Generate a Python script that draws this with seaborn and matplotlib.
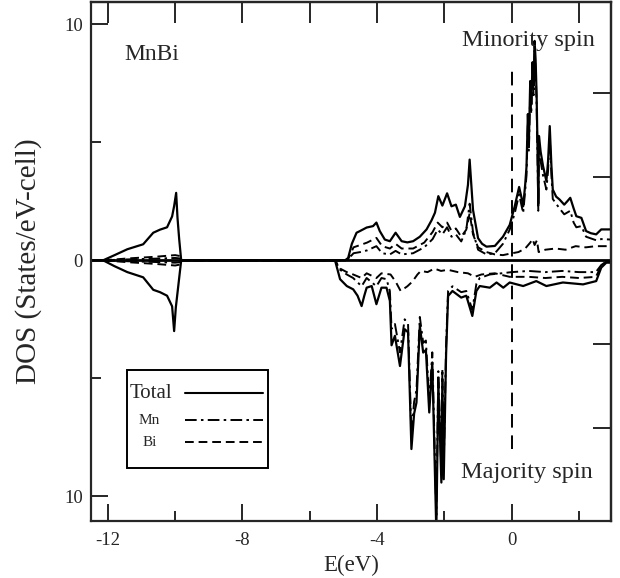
import matplotlib
matplotlib.use("Agg")
import matplotlib.pyplot as plt
import seaborn as sns
from matplotlib.lines import Line2D
from matplotlib.patches import Rectangle

# Minority spin (plotted upward)
e_up_tot = [-12.5, -12.14, -11.8, -11.42, -10.95, -10.65, -10.45, -10.24, -10.09, -10.03, -9.97, -9.93, -9.88, -9.82,
            -4.95, -4.86, -4.75, -4.61, -4.51, -4.31, -4.12, -4.02, -3.92, -3.77, -3.62, -3.45, -3.27, -3.1, -2.93,
            -2.73, -2.53, -2.38, -2.28, -2.18, -2.06, -1.92, -1.79, -1.66, -1.54, -1.39, -1.3, -1.25, -1.2, -1.15,
            -1.0, -0.88, -0.75, -0.5, -0.26, -0.06, 0.09, 0.22, 0.3, 0.34, 0.4, 0.44, 0.48, 0.51, 0.55, 0.58, 0.62,
            0.65, 0.68, 0.71, 0.74, 0.77, 0.79, 0.81, 0.86, 0.93, 1.03, 1.08, 1.13, 1.18, 1.22, 1.32, 1.42, 1.56,
            1.65, 1.74, 1.84, 1.92, 2.07, 2.21, 2.35, 2.51, 2.66, 2.95]
up_tot = [0, 0, 0.22, 0.47, 0.68, 1.17, 1.3, 1.4, 1.86, 2.3, 2.86, 1.8, 0.9, 0,
          0, 0.1, 0.7, 1.17, 1.24, 1.39, 1.45, 1.6, 1.24, 0.88, 0.81, 1.17, 0.81, 0.76, 0.81,
          1.0, 1.31, 1.7, 2.02, 2.72, 2.32, 2.84, 2.29, 2.36, 1.84, 2.29, 3.2, 4.27, 3.2, 2.14,
          0.94, 0.7, 0.58, 0.61, 1.0, 1.5, 2.29, 3.11, 2.6, 2.29, 3.2, 3.98, 6.2, 5.0, 7.6, 6.6, 8.4,
          7.4, 9.3, 8.5, 7.0, 4.5, 2.4, 5.27, 4.6, 4.0, 3.36, 4.2, 5.69, 4.0, 3.0, 2.7, 2.58, 2.36,
          2.5, 2.65, 2.2, 1.87, 1.8, 1.24, 1.15, 1.1, 1.31, 1.31]

e_up_mn = [-12.14, -11.4, -10.6, -10.0, -9.85, -9.82,
           -4.95, -4.86, -4.7, -4.5, -4.3, -4.02, -3.85, -3.62, -3.45, -3.27, -2.93, -2.6, -2.35, -2.2, -2.06,
           -1.92, -1.79, -1.66, -1.5, -1.35, -1.25, -1.15, -1.0, -0.75, -0.5, -0.26, -0.06, 0.09, 0.22, 0.34,
           0.44, 0.48, 0.51, 0.55, 0.58, 0.62, 0.65, 0.68, 0.71, 0.74, 0.77, 0.79, 0.81, 0.86, 0.93, 1.03,
           1.08, 1.13, 1.18, 1.22, 1.42, 1.56, 1.74, 1.84, 1.92, 2.07, 2.21, 2.51, 2.66, 2.95]
up_mn = [0, 0.04, 0.07, 0.1, 0.08, 0,
         0, 0.05, 0.3, 0.35, 0.42, 0.6, 0.3, 0.25, 0.4, 0.25, 0.3, 0.55, 0.9, 1.3, 1.1,
         1.4, 1.0, 1.1, 0.8, 1.3, 2.4, 1.2, 0.45, 0.25, 0.3, 0.7, 1.3, 2.0, 2.8, 2.0,
         3.6, 5.8, 4.6, 7.2, 6.2, 8.0, 7.0, 8.9, 8.1, 6.6, 4.1, 2.1, 4.9, 4.2, 3.6, 3.0,
         3.8, 5.2, 3.6, 2.6, 2.2, 1.95, 2.1, 1.6, 1.4, 1.45, 1.0, 0.85, 0.9, 0.88]

e_up_bi = [-12.14, -11.4, -10.6, -10.0, -9.85, -9.82,
           -4.95, -4.86, -4.7, -4.5, -4.3, -4.02, -3.85, -3.62, -3.45, -3.27, -2.93, -2.6, -2.35, -2.2, -2.06,
           -1.92, -1.79, -1.66, -1.5, -1.35, -1.25, -1.15, -1.0, -0.75, -0.5, -0.26, -0.06, 0.2, 0.4, 0.55,
           0.62, 0.68, 0.75, 0.8, 1.0, 1.3, 1.6, 1.9, 2.2, 2.5, 2.95]
up_bi = [0, 0.08, 0.15, 0.22, 0.18, 0,
         0, 0.05, 0.55, 0.65, 0.75, 0.95, 0.6, 0.5, 0.7, 0.5, 0.5, 0.75, 1.2, 1.6, 1.4,
         1.6, 1.25, 1.35, 1.0, 1.3, 2.0, 1.1, 0.55, 0.35, 0.25, 0.22, 0.28, 0.35, 0.5, 0.75,
         0.9, 0.65, 0.85, 0.35, 0.45, 0.5, 0.45, 0.6, 0.55, 0.6, 0.6]

# Majority spin (plotted downward)
e_dn_tot = [-12.5, -12.14, -11.8, -11.42, -10.95, -10.65, -10.45, -10.24, -10.09, -10.03, -9.98, -9.9, -9.82,
            -5.25, -5.1, -4.9, -4.71, -4.58, -4.46, -4.38, -4.31, -4.16, -4.02, -3.87, -3.72, -3.62, -3.57,
            -3.47, -3.32, -3.18, -3.08, -2.98, -2.9, -2.83, -2.73, -2.63, -2.55, -2.45, -2.36, -2.24, -2.18,
            -2.09, -2.06, -2.02, -1.95, -1.89, -1.76, -1.5, -1.35, -1.17, -1.05, -0.95, -0.65, -0.45, -0.25,
            -0.06, 0.34, 0.73, 1.03, 1.52, 2.12, 2.51, 2.66, 2.81, 2.95]
dn_tot = [0, 0, -0.25, -0.5, -0.72, -1.25, -1.35, -1.5, -1.95, -3.0, -2.0, -1.0, 0,
          0, -0.8, -1.09, -1.23, -1.5, -1.94, -1.5, -1.16, -1.09, -1.86, -1.16, -1.16, -1.72, -3.6,
          -3.2, -4.48, -2.92, -3.05, -8.0, -6.5, -6.03, -2.78, -3.91, -3.8, -6.45, -4.33, -11.5, -5.18,
          -9.42, -5.04, -9.28, -4.0, -1.51, -1.3, -1.58, -1.5, -2.36, -1.3, -1.09, -1.16, -0.94, -1.16,
          -0.94, -1.09, -0.88, -1.09, -0.94, -1.02, -0.88, -0.31, -0.1, -0.1]

e_dn_mn = [-12.14, -11.4, -10.6, -10.0, -9.85, -9.82,
           -5.25, -5.1, -4.9, -4.71, -4.46, -4.31, -4.02, -3.87, -3.72, -3.62, -3.57, -3.47, -3.32, -3.18,
           -3.08, -2.98, -2.9, -2.83, -2.73, -2.63, -2.55, -2.45, -2.36, -2.24, -2.18, -2.09, -2.06, -2.02,
           -1.95, -1.89, -1.76, -1.5, -1.35, -1.17, -1.05, -0.95, -0.65, -0.3, 0.0, 0.5, 1.0, 1.5, 2.0, 2.5,
           2.66, 2.81, 2.95]
dn_mn = [0, -0.04, -0.07, -0.1, -0.08, 0,
         0, -0.4, -0.6, -0.75, -1.1, -0.75, -1.1, -0.75, -0.8, -1.3, -2.9, -2.7, -3.9, -2.5,
         -2.7, -7.4, -6.0, -5.5, -2.4, -3.5, -3.4, -6.0, -3.9, -10.8, -4.7, -8.9, -4.6, -8.7,
         -3.6, -1.3, -1.1, -1.35, -1.3, -2.1, -1.0, -0.75, -0.6, -0.55, -0.5, -0.45, -0.5, -0.45, -0.5, -0.5,
         -0.2, -0.05, -0.05]

e_dn_bi = [-12.14, -11.4, -10.6, -10.0, -9.85, -9.82,
           -5.25, -5.1, -4.9, -4.71, -4.46, -4.31, -4.02, -3.87, -3.6, -3.45, -3.3, -3.1, -2.95, -2.8, -2.7,
           -2.5, -2.3, -2.1, -1.9, -1.6, -1.3, -1.1, -0.9, -0.5, -0.06, 0.5, 1.0, 1.5, 2.0, 2.5, 2.66, 2.81, 2.95]
dn_bi = [0, -0.08, -0.15, -0.22, -0.18, 0,
         0, -0.35, -0.5, -0.6, -0.75, -0.55, -0.75, -0.55, -0.6, -0.9, -1.3, -1.1, -0.9, -0.6, -0.45,
         -0.5, -0.35, -0.45, -0.4, -0.5, -0.55, -0.7, -0.6, -0.55, -0.7, -0.7, -0.75, -0.7, -0.75, -0.7, -0.25, -0.05, -0.05]

legend_labels = ['Total', 'Mn', 'Bi']

MN_DASH = (6, 2.2, 1.3, 2.2)
BI_DASH = (4.5, 2.5)


def plot_dos(ax, e, d, dash=None, lw=1.3):
    """Draw one DOS curve and apply the dash pattern."""
    sns.lineplot(x=e, y=d, ax=ax, color='black', lw=lw, estimator=None, sort=False)
    line = ax.lines[-1]
    if dash is not None:
        line.set_dashes(dash)
    return line


def draw_key(ax):
    """Boxed key with the label left of each line sample, as in the figure."""
    ax.add_patch(Rectangle((0.0692, 0.1021), 0.2712, 0.1888, transform=ax.transAxes,
                           fill=True, facecolor='white', edgecolor='black', lw=1.4, zorder=5))
    rows = [(legend_labels[0], 0.075, 0.2466, 15, None, 1.5),
            (legend_labels[1], 0.0923, 0.1946, 11, MN_DASH, 1.4),
            (legend_labels[2], 0.100, 0.1522, 11, BI_DASH, 1.4)]
    for label, tx, ty, size, dash, lw in rows:
        ax.text(tx, ty, label, transform=ax.transAxes, fontsize=size, va='center', zorder=6)
        sample = Line2D([0.1808, 0.3308], [ty, ty], transform=ax.transAxes, color='black', lw=lw, zorder=6)
        if dash is not None:
            sample.set_dashes(dash)
        ax.add_line(sample)


def main():
    sns.set_style("ticks")
    plt.rcParams['font.family'] = ['Liberation Serif', 'DejaVu Serif']
    plt.rcParams['axes.linewidth'] = 1.6

    fig = plt.figure(figsize=(6.2, 5.78), dpi=100)
    ax = fig.add_axes([91 / 620, 1 - 521 / 578, 520 / 620, 519 / 578])

    for e, d in [(e_up_bi, up_bi), (e_dn_bi, dn_bi)]:
        plot_dos(ax, e, d, BI_DASH, lw=1.4)
    for e, d in [(e_up_mn, up_mn), (e_dn_mn, dn_mn)]:
        plot_dos(ax, e, d, MN_DASH, lw=1.4)
    for e, d in [(e_up_tot, up_tot), (e_dn_tot, dn_tot)]:
        plot_dos(ax, e, d, None, lw=1.6)

    ax.axhline(0, color='black', lw=2.0)
    ax.vlines(0, -8.0, 8.1, colors='black', lw=1.4, linestyles=(0, (7, 4)))

    ax.set_xlim(-12.5, 2.95)
    ax.set_ylim(-11.05, 10.95)

    # bottom / left ticks
    ax.set_xticks([-12, -8, -4, 0])
    ax.set_xticklabels(['-12', '-8', '-4', '0'])
    ax.set_xticks([-10, -6, -2, 2], minor=True)
    ax.set_yticks([-10, 0, 10])
    ax.set_yticklabels(['10', '0', '10'])
    ax.set_yticks([-5, 5], minor=True)
    ax.tick_params(axis='x', which='major', direction='in', length=12.5, width=1.4, pad=8, labelsize=13.5)
    ax.tick_params(axis='x', which='minor', direction='in', length=7, width=1.4)
    ax.tick_params(axis='y', which='major', direction='in', length=12, width=1.4, pad=6, labelsize=13.5)
    ax.tick_params(axis='y', which='minor', direction='in', length=7, width=1.4)
    ax.tick_params(top=False, right=False, which='both')

    # top / right ticks
    top = ax.secondary_xaxis('top')
    top.set_xticks([-12, -10, -8, -6, -4, -2, 0, 2], labels=[''] * 8)
    top.tick_params(direction='in', length=15, width=1.4)
    right = ax.secondary_yaxis('right')
    right.set_yticks([-7.1, -3.55, 3.55, 7.1], labels=[''] * 4)
    right.tick_params(direction='in', length=13, width=1.4)

    ax.set_xlabel('E(eV)', fontsize=16.5)
    ax.xaxis.set_label_coords(0.5, -0.066)
    ax.set_ylabel('DOS (States/eV-cell)', fontsize=21)
    ax.yaxis.set_label_coords(-0.094, 0.5)

    ax.text(0.065, 0.888, 'MnBi', transform=ax.transAxes, fontsize=17, va='baseline')
    ax.text(0.842, 0.915, 'Minority spin', transform=ax.transAxes, fontsize=17.5, ha='center', va='baseline')
    ax.text(0.838, 0.083, 'Majority spin', transform=ax.transAxes, fontsize=17.5, ha='center', va='baseline')

    draw_key(ax)

    fig.savefig('out.png', dpi=100)


if __name__ == "__main__":
    main()
